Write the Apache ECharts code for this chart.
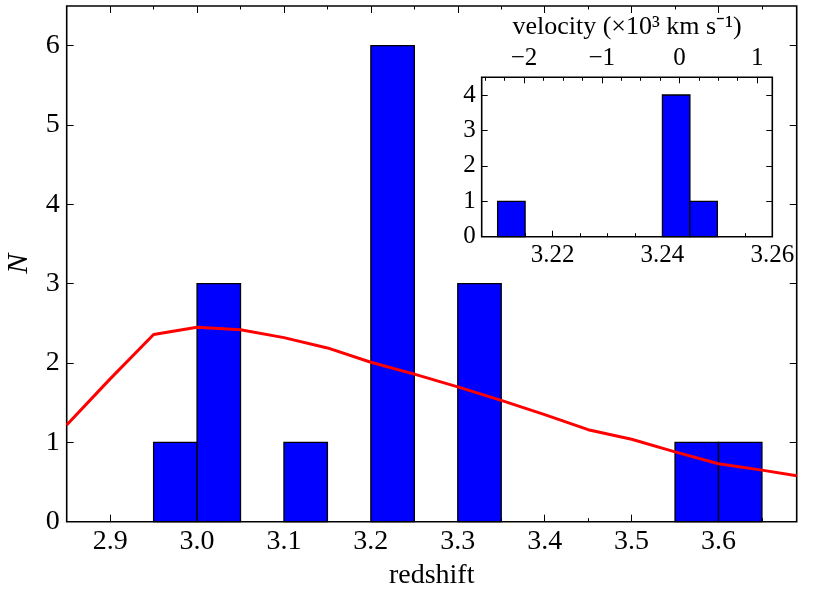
<!DOCTYPE html>
<html><head><meta charset="utf-8">
<script src="https://cdn.jsdelivr.net/npm/echarts@6/dist/echarts.min.js"></script>
<style>html,body{margin:0;padding:0;background:#fff}#c{width:830px;height:593px}</style>
</head><body><div id="c"></div>
<script>
// ---- main histogram data ----
const binLeft = [2.95, 3.00, 3.10, 3.20, 3.30, 3.55, 3.60];
const binCounts = [1, 3, 1, 6, 3, 1, 1];
const binWidth = 0.05;
// ---- red curve ----
const curveX = [2.85, 2.90, 2.95, 3.00, 3.05, 3.10, 3.15, 3.20, 3.25, 3.30, 3.35, 3.40, 3.45, 3.50, 3.55, 3.60, 3.65, 3.69];
const curveY = [1.22, 1.80, 2.36, 2.45, 2.42, 2.32, 2.19, 2.01, 1.86, 1.70, 1.53, 1.35, 1.16, 1.04, 0.88, 0.73, 0.65, 0.58];
// ---- inset histogram ----
const insetLeft = [3.210, 3.240, 3.245];
const insetCounts = [1, 4, 1];
const insetWidth = 0.005;
// ---- ticks ----
const mainXMajor = [2.9, 3.0, 3.1, 3.2, 3.3, 3.4, 3.5, 3.6];
const mainXMinor = [2.95, 3.05, 3.15, 3.25, 3.35, 3.45, 3.55, 3.65];
const mainYTicks = [0, 1, 2, 3, 4, 5, 6];
const insetXMajor = [3.22, 3.24, 3.26];
const insetXMinor = [3.21, 3.215, 3.225, 3.23, 3.235, 3.245, 3.25, 3.255];
const insetYTicks = [0, 1, 2, 3, 4];
const velMajor = [-2, -1, 0, 1];
const velMinor = [-2.5, -2.25, -1.75, -1.5, -1.25, -0.75, -0.5, -0.25, 0.25, 0.5, 0.75];
// ---- ranges ----
const mainXRange = [2.85, 3.69];
const mainYRange = [0, 6.5];
const insetXRange = [3.2071, 3.26];
const insetYRange = [0, 4.5];
const zCenter = 3.2431;
const cKms = 3e5;
const toVel = z => cKms * (z - zCenter) / (1 + zCenter) / 1000;

const FONT = 'Liberation Serif';
const fmtMinus = v => (v < 0 ? '\u2212' + Math.abs(v) : String(v));

function histItem(xIdx, yIdx, lefts, counts, w) {
  return {
    type: 'custom', xAxisIndex: xIdx, yAxisIndex: yIdx,
    data: lefts.map((l, i) => [l, l + w, counts[i]]),
    renderItem: (params, api) => {
      const p0 = api.coord([api.value(0), 0]);
      const p1 = api.coord([api.value(1), api.value(2)]);
      return { type: 'rect', shape: { x: p0[0], y: p1[1], width: p1[0] - p0[0], height: p0[1] - p1[1] },
        style: { fill: '#0000ff', stroke: '#000', lineWidth: 1.3 } };
    },
    z: 3
  };
}

function ax(base) {
  return Object.assign({
    type: 'value', axisLine: { show: false, onZero: false }, splitLine: { show: false },
    axisLabel: { show: false }, axisTick: { show: false }
  }, base);
}
const tick = (vals, len) => ({ show: true, inside: true, customValues: vals, length: len, lineStyle: { color: '#000', width: 1 } });

const chart = echarts.init(document.getElementById('c'), null, { renderer: 'canvas' });
chart.setOption({
  animation: false,
  backgroundColor: '#fff',
  grid: [
    { left: 66.7, top: 6, width: 730, height: 515.7, show: true, borderColor: '#000', borderWidth: 1.6, backgroundColor: 'transparent', containLabel: false, outerBoundsMode: 'none' },
    { left: 481.7, top: 77.3, width: 290.6, height: 159.4, show: true, borderColor: '#000', borderWidth: 1.6, backgroundColor: '#fff', containLabel: false, outerBoundsMode: 'none' }
  ],
  xAxis: [
    ax({ gridIndex: 0, position: 'bottom', min: mainXRange[0], max: mainXRange[1], axisTick: tick(mainXMajor, 7),
      axisLabel: { show: true, customValues: mainXMajor, formatter: v => v.toFixed(1), fontFamily: FONT, fontSize: 28, color: '#000', margin: 6 },
      name: 'redshift', nameLocation: 'middle', nameGap: 40, nameTextStyle: { fontFamily: FONT, fontSize: 28, color: '#000' } }),
    ax({ gridIndex: 0, position: 'bottom', min: mainXRange[0], max: mainXRange[1], axisTick: tick(mainXMinor, 3.5) }),
    ax({ gridIndex: 0, position: 'top', min: mainXRange[0], max: mainXRange[1], axisTick: tick(mainXMajor, 7) }),
    ax({ gridIndex: 0, position: 'top', min: mainXRange[0], max: mainXRange[1], axisTick: tick(mainXMinor, 3.5) }),
    ax({ gridIndex: 1, position: 'bottom', min: insetXRange[0], max: insetXRange[1], axisTick: tick(insetXMajor, 6),
      axisLabel: { show: true, customValues: insetXMajor, formatter: v => v.toFixed(2), fontFamily: FONT, fontSize: 25, color: '#000', margin: 6 } }),
    ax({ gridIndex: 1, position: 'bottom', min: insetXRange[0], max: insetXRange[1], axisTick: tick(insetXMinor, 3.5) }),
    ax({ gridIndex: 1, position: 'top', min: toVel(insetXRange[0]), max: toVel(insetXRange[1]), axisTick: tick(velMajor, 6),
      axisLabel: { show: true, customValues: velMajor, formatter: fmtMinus, fontFamily: FONT, fontSize: 25, color: '#000', margin: 6 },
      name: 'velocity (\u00d710\u00b3 km s\u207b\u00b9)', nameLocation: 'middle', nameGap: 37, nameTextStyle: { fontFamily: FONT, fontSize: 26, color: '#000' } }),
    ax({ gridIndex: 1, position: 'top', min: toVel(insetXRange[0]), max: toVel(insetXRange[1]), axisTick: tick(velMinor, 3.5) })
  ],
  yAxis: [
    ax({ gridIndex: 0, position: 'left', min: mainYRange[0], max: mainYRange[1], axisTick: tick(mainYTicks, 7),
      axisLabel: { show: true, customValues: mainYTicks, fontFamily: FONT, fontSize: 28, color: '#000', margin: 7 },
      name: 'N', nameLocation: 'middle', nameGap: 33, nameRotate: 90, nameTextStyle: { fontFamily: FONT, fontStyle: 'italic', fontSize: 30, color: '#000' } }),
    ax({ gridIndex: 0, position: 'right', min: mainYRange[0], max: mainYRange[1], axisTick: tick(mainYTicks, 7) }),
    ax({ gridIndex: 1, position: 'left', min: insetYRange[0], max: insetYRange[1], axisTick: tick(insetYTicks, 6),
      axisLabel: { show: true, customValues: insetYTicks, fontFamily: FONT, fontSize: 25, color: '#000', margin: 6 } }),
    ax({ gridIndex: 1, position: 'right', min: insetYRange[0], max: insetYRange[1], axisTick: tick(insetYTicks, 6) })
  ],
  series: [
    histItem(0, 0, binLeft, binCounts, binWidth),
    { type: 'line', xAxisIndex: 0, yAxisIndex: 0, data: curveX.map((x, i) => [x, curveY[i]]), showSymbol: false, symbol: 'none',
      lineStyle: { color: '#ff0000', width: 3 }, z: 4, clip: true },
    histItem(4, 2, insetLeft, insetCounts, insetWidth)
  ]
});
</script></body></html>
